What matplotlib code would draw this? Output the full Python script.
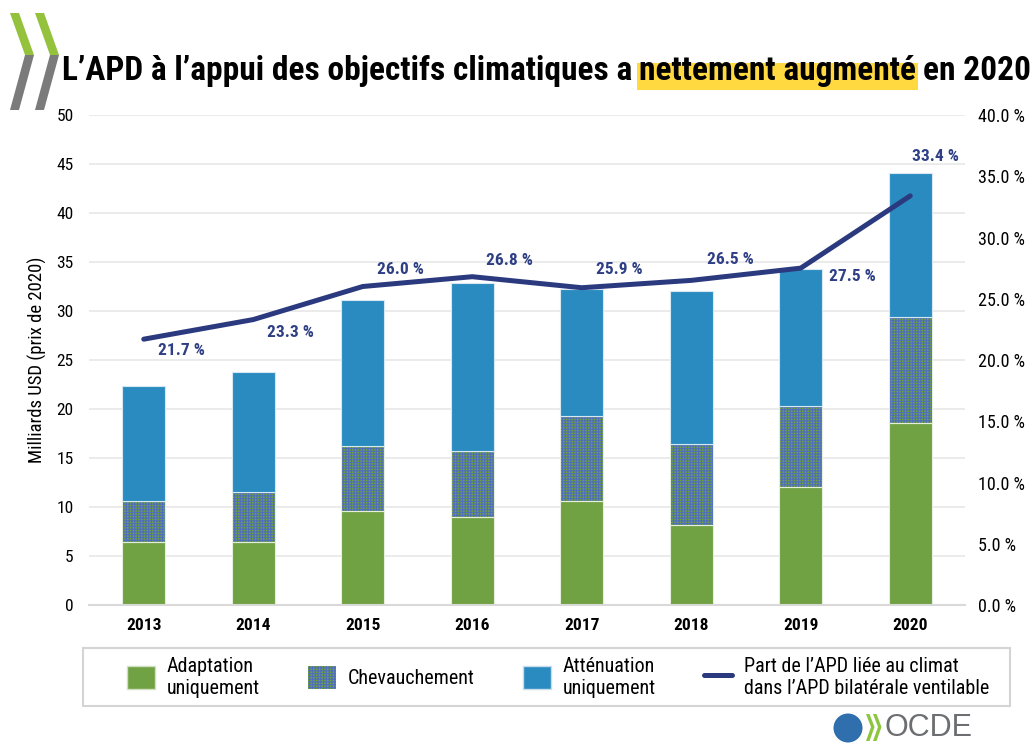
import matplotlib
matplotlib.use('Agg')
import matplotlib.pyplot as plt
from matplotlib.patches import Patch, Polygon, Rectangle, Ellipse
from matplotlib.lines import Line2D
import numpy as np

COND = ['Roboto Condensed', 'Noto Sans Condensed', 'Open Sans Condensed',
        'Liberation Sans Narrow', 'DejaVu Sans Condensed', 'Noto Sans', 'DejaVu Sans']
plt.rcParams['font.family'] = COND
plt.rcParams['font.stretch'] = 'condensed'
plt.rcParams['hatch.linewidth'] = 0.8

# data
years = ['2013', '2014', '2015', '2016', '2017', '2018', '2019', '2020']
adaptation = [6.4, 6.4, 9.6, 9.0, 10.6, 8.2, 12.0, 18.6]
overlap = [4.2, 5.1, 6.6, 6.7, 8.7, 8.2, 8.3, 10.8]
mitigation = [11.7, 12.3, 14.9, 17.2, 12.9, 15.6, 14.0, 14.7]
share = [21.7, 23.3, 26.0, 26.8, 25.9, 26.5, 27.5, 33.4]
# label offsets (points) for the share labels
lab_dx = [27, 27, 27, 27, 27, 28, 37, 18]
lab_dy = [-8, -9, 12, 12, 13, 15, -6, 28]

GREEN = '#70a142'
BLUE = '#2a8bc0'
HATCHBLUE = '#4f6fb8'
NAVY = '#2b3a7e'

W, H = 1033, 744
fig = plt.figure(figsize=(W / 100, H / 100), dpi=100)
fig.patch.set_facecolor('white')

ax = fig.add_axes([89 / W, 1 - 605 / H, 876 / W, 490 / H])
x = np.arange(len(years))
bw = 0.39

#-------------------------------------------------------------bars
ax.bar(x, adaptation, bw, color=GREEN, edgecolor='#e6eedd', linewidth=0.8, zorder=2)
ax.bar(x, overlap, bw, bottom=adaptation, facecolor=GREEN, edgecolor=HATCHBLUE,
       hatch='++++++', linewidth=0, zorder=2)
ax.bar(x, overlap, bw, bottom=adaptation, fill=False, edgecolor='#e6eedd',
       linewidth=0.8, zorder=2)
bot2 = np.array(adaptation) + np.array(overlap)
ax.bar(x, mitigation, bw, bottom=bot2, color=BLUE, edgecolor='#d8e8f2', linewidth=0.8, zorder=2)

ax.set_xlim(-0.5, len(years) - 0.5)
ax.set_ylim(0, 50)
ax.set_yticks(range(0, 51, 5))
ax.set_xticks(x)
ax.set_xticklabels(years, fontsize=12.5, fontweight='bold')
ax.tick_params(axis='x', length=0, pad=9)
ax.tick_params(axis='y', length=0, pad=11, labelsize=12.5)
ax.grid(axis='y', color='#e8e8e8', linewidth=1.2, zorder=0)
ax.set_axisbelow(True)
for s in ['top', 'right', 'left']:
    ax.spines[s].set_visible(False)
ax.spines['bottom'].set_color('#d9d9d9')
ax.spines['bottom'].set_linewidth(1.5)
ax.set_ylabel('Milliards USD (prix de 2020)', fontsize=13.5, labelpad=7)

#-------------------------------------------------------------share line
ax2 = ax.twinx()
ax2.set_ylim(0, 40)
ax2.set_yticks(range(0, 41, 5))
ax2.set_yticklabels([f'{v:.1f} %' for v in range(0, 41, 5)])
ax2.tick_params(axis='y', length=0, pad=9, labelsize=13)
for s in ax2.spines.values():
    s.set_visible(False)
ax2.plot(x, share, color=NAVY, linewidth=3.6, solid_capstyle='round', zorder=3)
for i, v in enumerate(share):
    ax2.annotate(f'{v:.1f} %', (i, v), xytext=(lab_dx[i], lab_dy[i]),
                 textcoords='offset points', ha='center', va='center',
                 fontsize=12.5, fontweight='bold', color='#2e3f85')

#-------------------------------------------------------------legend
handles = [Patch(facecolor=GREEN, edgecolor='#d0e0c0'),
           Patch(facecolor=GREEN, edgecolor=HATCHBLUE, hatch='++++++', linewidth=0),
           Patch(facecolor=BLUE, edgecolor='#c8dcea'),
           Line2D([], [], color=NAVY, linewidth=3.6, solid_capstyle='round')]
labels = ['Adaptation\nuniquement', 'Chevauchement', 'Atténuation\nuniquement',
          'Part de l’APD liée au climat\ndans l’APD bilatérale ventilable']
leg_kw = dict(ncol=4, loc='center', bbox_to_anchor=(558 / W, 1 - 677 / H),
              fontsize=14.5, frameon=False,
              handlelength=1.4, handleheight=1.4, handletextpad=0.6,
              borderpad=0, borderaxespad=0, labelspacing=0.15)
target_w = 990 - 127
cs = 3.0
for _ in range(3):
    leg = fig.legend(handles, labels, columnspacing=cs, **leg_kw)
    fig.canvas.draw()
    lw = leg.get_window_extent(fig.canvas.get_renderer()).width
    leg.remove()
    cs += (target_w - lw) / 3 / (14.5 * 100 / 72)
leg = fig.legend(handles, labels, columnspacing=cs, **leg_kw)
# legend box
fig.patches.append(Rectangle((83 / W, 1 - 706 / H), 927 / W, 58 / H, facecolor='white',
                             edgecolor='#d4d4d4', linewidth=1.5, zorder=0,
                             transform=fig.transFigure, figure=fig))

#-------------------------------------------------------------OECD chevrons (top left)
def chevron(x0, ytop, ytip, ybot, th, depth, green, gray):
    # coordinates in pixels from top-left
    up = [(x0, ytop), (x0 + th, ytop), (x0 + th + depth, ytip), (x0 + depth, ytip)]
    lo = [(x0 + depth, ytip), (x0 + th + depth, ytip), (x0 + th, ybot), (x0, ybot)]
    for pts, c in [(up, green), (lo, gray)]:
        fig.patches.append(Polygon([(px / W, 1 - py / H) for px, py in pts],
                                   closed=True, facecolor=c, edgecolor='none',
                                   transform=fig.transFigure, figure=fig))

chevron(10, 13, 55, 110, 9, 15, '#95c23d', '#7b7b7c')
chevron(35, 13, 55, 110, 9, 15, '#95c23d', '#7b7b7c')

#-------------------------------------------------------------title
parts = ['L’APD à l’appui des objectifs climatiques a', 'nettement augmenté', 'en 2020']
base_y = 1 - 80 / H
tx = [fig.text(62 / W, base_y, p, fontsize=30, fontweight='bold', va='baseline',
               color='black', zorder=5) for p in parts]
target = 1028 - 62
fs = 30.0
for _ in range(3):
    for t in tx:
        t.set_fontsize(fs)
    fig.canvas.draw()
    r = fig.canvas.get_renderer()
    widths = [t.get_window_extent(r).width for t in tx]
    gap = 0.2 * fs * 100 / 72
    total = sum(widths) + 2 * gap
    fs *= target / total
for t in tx:
    t.set_fontsize(fs)
fig.canvas.draw()
r = fig.canvas.get_renderer()
widths = [t.get_window_extent(r).width for t in tx]
gap = 0.2 * fs * 100 / 72
cur = 62
for t, w in zip(tx, widths):
    t.set_x(cur / W)
    cur += w + gap
x_hl = 62 + widths[0] + gap
fig.patches.append(Rectangle(((x_hl - 2) / W, 1 - 90 / H), (widths[1] + 4) / W, 27 / H,
                             facecolor='#ffd93f', edgecolor='none', zorder=1,
                             transform=fig.transFigure, figure=fig))

#-------------------------------------------------------------OCDE logo (bottom right)
fig.patches.append(Ellipse((848 / W, 1 - 728 / H), 29 / W, 29 / H, facecolor='#2f6fae',
                           edgecolor='none', transform=fig.transFigure, figure=fig))
chevron(866, 714, 727, 741, 3.5, 5, '#8cc63f', '#8cc63f')
chevron(873, 714, 727, 741, 3.5, 5, '#8cc63f', '#8cc63f')
fig.text(884 / W, 1 - 743 / H, 'OCDE', fontsize=22, color='#6d6e71', va='bottom',
         family=['Liberation Sans', 'DejaVu Sans'], fontstretch='normal')

fig.savefig('out.png', dpi=100)
